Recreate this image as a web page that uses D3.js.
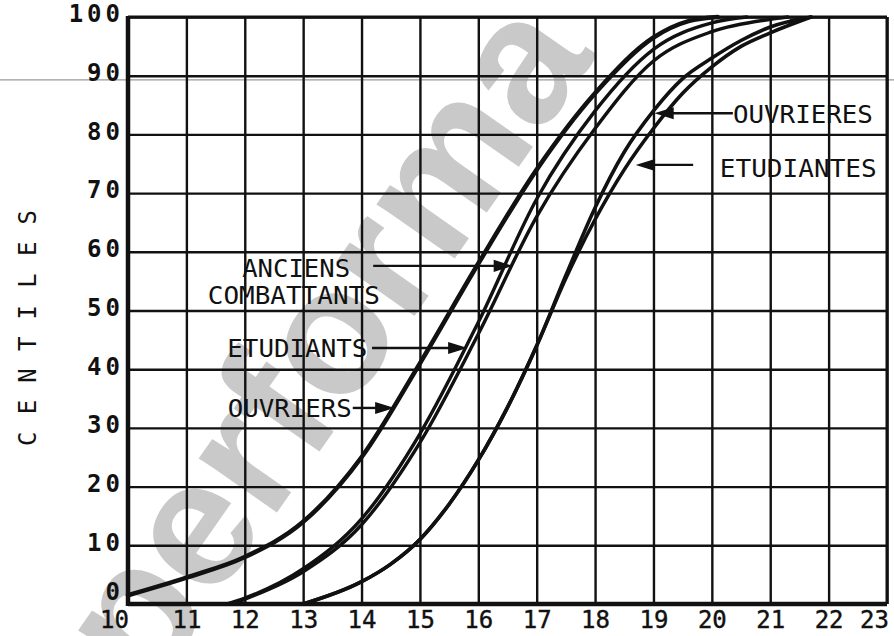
<!DOCTYPE html>
<html><head><meta charset="utf-8">
<script src="https://cdn.jsdelivr.net/npm/d3@7"></script>
<style>html,body{margin:0;padding:0;background:#fff;overflow:hidden}</style>
</head><body><svg id="chart" width="894" height="636"></svg>
<script>
// ---- data ----
const xTicks = [10,11,12,13,14,15,16,17,18,19,20,21,22,23];
const yTicks = [0,10,20,30,40,50,60,70,80,90,100];
const yTitle = "CENTILES";
const watermark = "performa";
const seriesNames = ["OUVRIERS","ETUDIANTS","ANCIENS COMBATTANTS","OUVRIERES","ETUDIANTES"];
const ouvriers   = [[10,1.5],[11,4.5],[12,8],[13,14],[14,25],[15,41],[16,58],[17,74],[18,87],[19,96.5],[19.6,99.3],[20.1,100]];
const etudiants  = [[11.7,0],[12,1],[13,6],[14,14.5],[15,29],[16,48],[17,69],[18,84],[19,94.5],[20,99],[20.6,100]];
const anciens    = [[11.8,0],[12,0.8],[13,5.5],[14,13.5],[15,27.5],[16,46],[17,66],[18,81],[19,92.5],[20,97.5],[21,99.6],[21.3,100]];
const ouvrieres  = [[13,0],[14,3.8],[14.5,6.8],[15,11],[15.5,17],[16,24.5],[16.5,33.5],[17,44],[17.5,56],[18,67.5],[18.5,77],[19,84],[19.5,89.5],[20,93],[20.5,96],[21,98.3],[21.7,100]];
const etudiantes = [[13,0],[14,3.8],[14.5,6.8],[15,11],[15.5,17],[16,24.5],[16.5,33.5],[17,44],[17.5,55.5],[18,65.5],[18.5,74],[19,81],[19.5,87],[20,91.5],[20.5,95],[21,97.3],[21.7,100]];

// ---- layout ----
const svg = d3.select("#chart");
const x = d3.scaleLinear().domain([10,23]).range([128,887]);
const y = d3.scaleLinear().domain([0,100]).range([604,17]);
const mono = "'DejaVu Sans Mono', 'Liberation Mono', monospace";

// watermark (under the ink)
svg.append("text")
  .attr("transform", "translate(334,348) rotate(-55)")
  .attr("text-anchor","middle").attr("dominant-baseline","middle")
  .attr("font-family","'Liberation Sans', Arial, sans-serif")
  .attr("font-weight","bold").attr("font-size",180)
  .attr("fill","#c9c9c9").text(watermark);

// faint scan line
svg.append("line").attr("x1",0).attr("x2",894).attr("y1",y(89.3)).attr("y2",y(89.3))
  .attr("stroke","#9a9a9a").attr("stroke-width",1.2);

// grid via axes
const gx = svg.append("g").attr("transform",`translate(0,${y(0)})`)
  .call(d3.axisBottom(x).tickValues(xTicks).tickSize(-(y(0)-y(100))).tickPadding(7).tickFormat(d3.format("d")));
gx.select(".domain").remove();
gx.selectAll(".tick line").attr("stroke","#111").attr("stroke-width",2.4);
gx.selectAll(".tick text").attr("font-family",mono).attr("font-size",24).attr("fill","#111")
  .attr("stroke","#111").attr("stroke-width",0.4)
  .attr("dx",(d,i)=> i===0 ? -14 : (i===xTicks.length-1 ? -13 : 0));

const gy = svg.append("g").attr("transform",`translate(${x(10)},0)`)
  .call(d3.axisLeft(y).tickValues(yTicks).tickSize(-(x(23)-x(10))).tickPadding(4).tickFormat(d3.format("d")));
gy.select(".domain").remove();
gy.selectAll(".tick line").attr("stroke","#111").attr("stroke-width",2.4);
gy.selectAll(".tick text").attr("font-family",mono).attr("font-weight","bold").attr("font-size",24)
  .attr("fill","#111").attr("letter-spacing",4)
  .attr("dy",d=> d===0 ? "-0.2em" : "0.2em");

// frame
svg.append("line").attr("x1",x(10)).attr("x2",x(10)).attr("y1",y(100)-1).attr("y2",y(0)+2).attr("stroke","#111").attr("stroke-width",4.5);
svg.append("line").attr("x1",x(10)).attr("x2",x(23)).attr("y1",y(0)).attr("y2",y(0)).attr("stroke","#111").attr("stroke-width",4.5);
svg.append("line").attr("x1",x(10)).attr("x2",x(23)).attr("y1",y(100)).attr("y2",y(100)).attr("stroke","#111").attr("stroke-width",3.2);
svg.append("line").attr("x1",x(23)).attr("x2",x(23)).attr("y1",y(100)).attr("y2",y(0)).attr("stroke","#111").attr("stroke-width",3);

// y title
svg.append("text").attr("transform","translate(29,328) rotate(-90)")
  .attr("text-anchor","middle").attr("dominant-baseline","middle")
  .attr("font-family",mono).attr("font-size",24).attr("fill","#111")
  .attr("textLength",236).attr("lengthAdjust","spacing").text(yTitle);

// curves
const line = d3.line().x(d=>x(d[0])).y(d=>y(d[1])).curve(d3.curveMonotoneX);
const series = [
  {data:ouvriers, w:4.6},
  {data:etudiants, w:3.4},
  {data:anciens, w:3.4},
  {data:ouvrieres, w:3.6},
  {data:etudiantes, w:3.6}
];
svg.append("g").selectAll("path").data(series).join("path")
  .attr("d",d=>line(d.data)).attr("fill","none").attr("stroke","#111")
  .attr("stroke-width",d=>d.w).attr("stroke-linecap","round");

// annotations (text + leader + arrow), placed in data units
const notes = [
  {name:0, lines:[[12.77,31.9]], from:13.85, to:14.52, ly:33.4},
  {name:1, lines:[[12.9,42.1]], from:14.18, to:15.77, ly:43.6},
  {name:2, lines:[[12.88,55.7],[12.84,51.1]], from:14.2, to:16.55, ly:57.6, split:true},
  {name:3, lines:[[21.56,81.9]], from:20.36, to:19.06, ly:83.6},
  {name:4, lines:[[21.48,72.7]], from:19.68, to:18.74, ly:74.8}
];
const widths = {"OUVRIERS":124,"ETUDIANTS":140,"ANCIENS":108,"COMBATTANTS":172,"OUVRIERES":140,"ETUDIANTES":157};
const ga = svg.append("g");
notes.forEach(n=>{
  const name = seriesNames[n.name];
  const parts = n.split ? name.split(" ") : [name];
  parts.forEach((p,i)=>{
    ga.append("text").attr("x",x(n.lines[i][0])).attr("y",y(n.lines[i][1]))
      .attr("text-anchor","middle").attr("font-family",mono).attr("font-size",25)
      .attr("fill","#111").attr("textLength",widths[p]).attr("lengthAdjust","spacingAndGlyphs").text(p);
  });
  const x0 = x(n.from), x1 = x(n.to), yy = y(n.ly);
  const dir = Math.sign(x1-x0);
  ga.append("line").attr("x1",x0).attr("x2",x1-dir*12).attr("y1",yy).attr("y2",yy)
    .attr("stroke","#111").attr("stroke-width",2.4);
  ga.append("path").attr("d",`M${x1},${yy} L${x1-dir*16},${yy-5} L${x1-dir*16},${yy+5} Z`)
    .attr("fill","#111").attr("stroke","#111").attr("stroke-width",1.5);
});
// arrow tip at end of right-hand curves
const endPt = ouvrieres[ouvrieres.length-1];
svg.append("path").attr("d",`M${x(endPt[0])},${y(endPt[1])+1} l-24,9 l3,-8 Z`).attr("fill","#111");
</script></body></html>
